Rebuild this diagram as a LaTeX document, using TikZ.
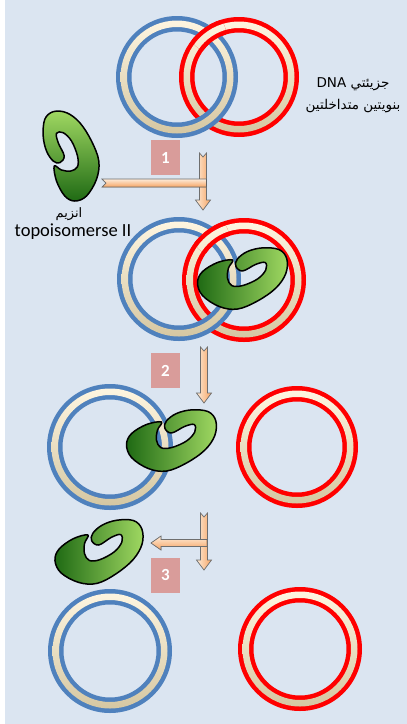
\documentclass[tikz,border=0pt]{standalone}
\usepackage{fontspec}
\setmainfont{Carlito}
\newfontfamily\arabicfont[Script=Arabic]{DejaVu Sans}
\TeXXeTstate=1

\definecolor{bg}{HTML}{DBE5F1}
\definecolor{ringblue}{HTML}{4F81BD}
\definecolor{ringred}{HTML}{FF0000}
\definecolor{creamtop}{HTML}{FEF5E0}
\definecolor{creambot}{HTML}{D5C7A2}
\definecolor{enzdark}{HTML}{1F6A14}
\definecolor{enzlight}{HTML}{A0D862}
\definecolor{arrowlight}{HTML}{FDEBD9}
\definecolor{arroworange}{HTML}{F6A462}
\definecolor{arrowline}{HTML}{6E6E6E}
\definecolor{stepfill}{HTML}{D99C9A}

\tikzset{
  stepbox/.style={fill=stepfill, text=white, minimum width=29pt, minimum height=35pt,
    inner sep=0pt, font=\bfseries\fontsize{17}{17}\selectfont},
  enzymeline/.style={draw=black, line width=1.5pt, line join=round},
  blockarrow/.style={draw=arrowline, line width=0.7pt, line join=miter},
  vshade/.style={left color=arrowlight, right color=arroworange},
  hshade/.style={top color=arrowlight, bottom color=arroworange},
  arabiclabel/.style={font=\arabicfont\fontsize{13.5}{15}\selectfont},
}

% one circular DNA molecule: coloured double strand with a cream core
\newcommand\dnaring[4]{%
  \fill[#4, even odd rule] (#1,#2) circle (#3) (#1,#2) circle ({#3-15.5});
  \shade[top color=creamtop, bottom color=creambot, even odd rule]
    (#1,#2) circle ({#3-4.5}) (#1,#2) circle ({#3-11});
}

% the topoisomerase clamp: centre x, centre y, rotation, extra options
\newcommand\enzyme[4]{%
  \begin{scope}[shift={(#1,#2)}, rotate=#3]
    \draw[enzymeline, #4] plot[smooth cycle, tension=0.6] coordinates {
      (-10,-17.3) (-25,-15) (-40,-6.7) (-45,3.3) (-40,15) (-23.3,25) (-5,27.3)
      (15,20) (33.3,8.3) (43.3,-5) (44.3,-18.3) (36.7,-26.7) (20,-28.3) (5,-25)
      (-5,-18.3) (-6.7,-11.7) (0,-7.3) (13.3,-13.3) (22.7,-15) (23.3,-8.3)
      (15,0) (0,6) (-10.7,6) (-15,-0.7) (-14,-10)};
  \end{scope}%
}

% vertical block arrow: x, tail y, tip y
\newcommand\stepdownarrow[3]{%
  \draw[blockarrow, vshade] (#1-3.5,#2) -- (#1,#2+4) -- (#1+3.5,#2) -- (#1+3.5,#3-10)
    -- (#1+7.5,#3-10) -- (#1,#3) -- (#1-7.5,#3-10) -- (#1-3.5,#3-10) -- cycle;
}

\begin{document}
\begin{tikzpicture}[x=1pt, y=-1pt]
  \useasboundingbox (0,0) rectangle (407,724);
  \fill[white] (0,0) rectangle (407,724);
  \fill[bg] (5,0) rectangle (407,724);

  % --- two interlocked DNA circles ---
  \dnaring{239}{77}{60}{ringred}
  \dnaring{177}{77}{61}{ringblue}
  \begin{scope}
    \clip (208,33) circle (18);
    \dnaring{239}{77}{60}{ringred}
  \end{scope}
  \node[arabiclabel] (t1) at (353,84)
    {\beginR جزيئتي \beginL DNA\endL\endR};
  \node[arabiclabel] (t2) at (353,106)
    {\beginR بنويتين متداخلتين\endR};

  % --- free enzyme and step 1 ---
  \enzyme{71.5}{156}{90}{top color=enzlight, bottom color=enzdark}
  \node[font=\arabicfont\fontsize{13}{14}\selectfont] (e1) at (69,214) {\beginR انزيم\endR};
  \node[font=\fontsize{18.5}{20}\selectfont] (e2) at (73,232) {topoisomerse II};

  \stepdownarrow{203}{153}{210}
  \fill[hshade] (102,179) -- (106,183) -- (102,187) -- (206.2,187) -- (206.2,179) -- cycle;
  \draw[blockarrow] (206.5,179) -- (102,179) -- (106,183) -- (102,187) -- (206.5,187);
  \node[stepbox] (s1) at (165.5,157.5) {1};

  % --- enzyme bound to the two circles ---
  \dnaring{244}{280}{62}{ringred}
  \dnaring{179}{279}{62}{ringblue}
  \begin{scope}
    \clip (211,236) circle (18);
    \dnaring{244}{280}{62}{ringred}
  \end{scope}
  \enzyme{242.5}{279}{0}{yscale=1.1, left color=enzdark, right color=enzlight}

  % --- step 2: red circle passed through the cut ---
  \stepdownarrow{204}{347}{403}
  \node[stepbox] (s2) at (165.5,370.5) {2};
  \dnaring{110}{447}{63}{ringblue}
  \dnaring{297}{447}{61}{ringred}
  \enzyme{171.5}{441}{0}{yscale=1.1, left color=enzdark, right color=enzlight}

  % --- step 3: enzyme released ---
  \stepdownarrow{204}{513}{570}
  \fill[hshade] (206.2,539.5) -- (161,539.5) -- (161,536) -- (151,543) -- (161,550)
    -- (161,546.5) -- (206.2,546.5) -- cycle;
  \draw[blockarrow] (207.5,539.5) -- (161,539.5) -- (161,536) -- (151,543) -- (161,550)
    -- (161,546.5) -- (207.5,546.5);
  \node[stepbox] (s3) at (165.5,575) {3};
  \enzyme{99.5}{553}{5}{yscale=1.1, left color=enzdark, right color=enzlight}

  \dnaring{110}{651}{62}{ringblue}
  \dnaring{300}{649}{62}{ringred}
\end{tikzpicture}
\end{document}
